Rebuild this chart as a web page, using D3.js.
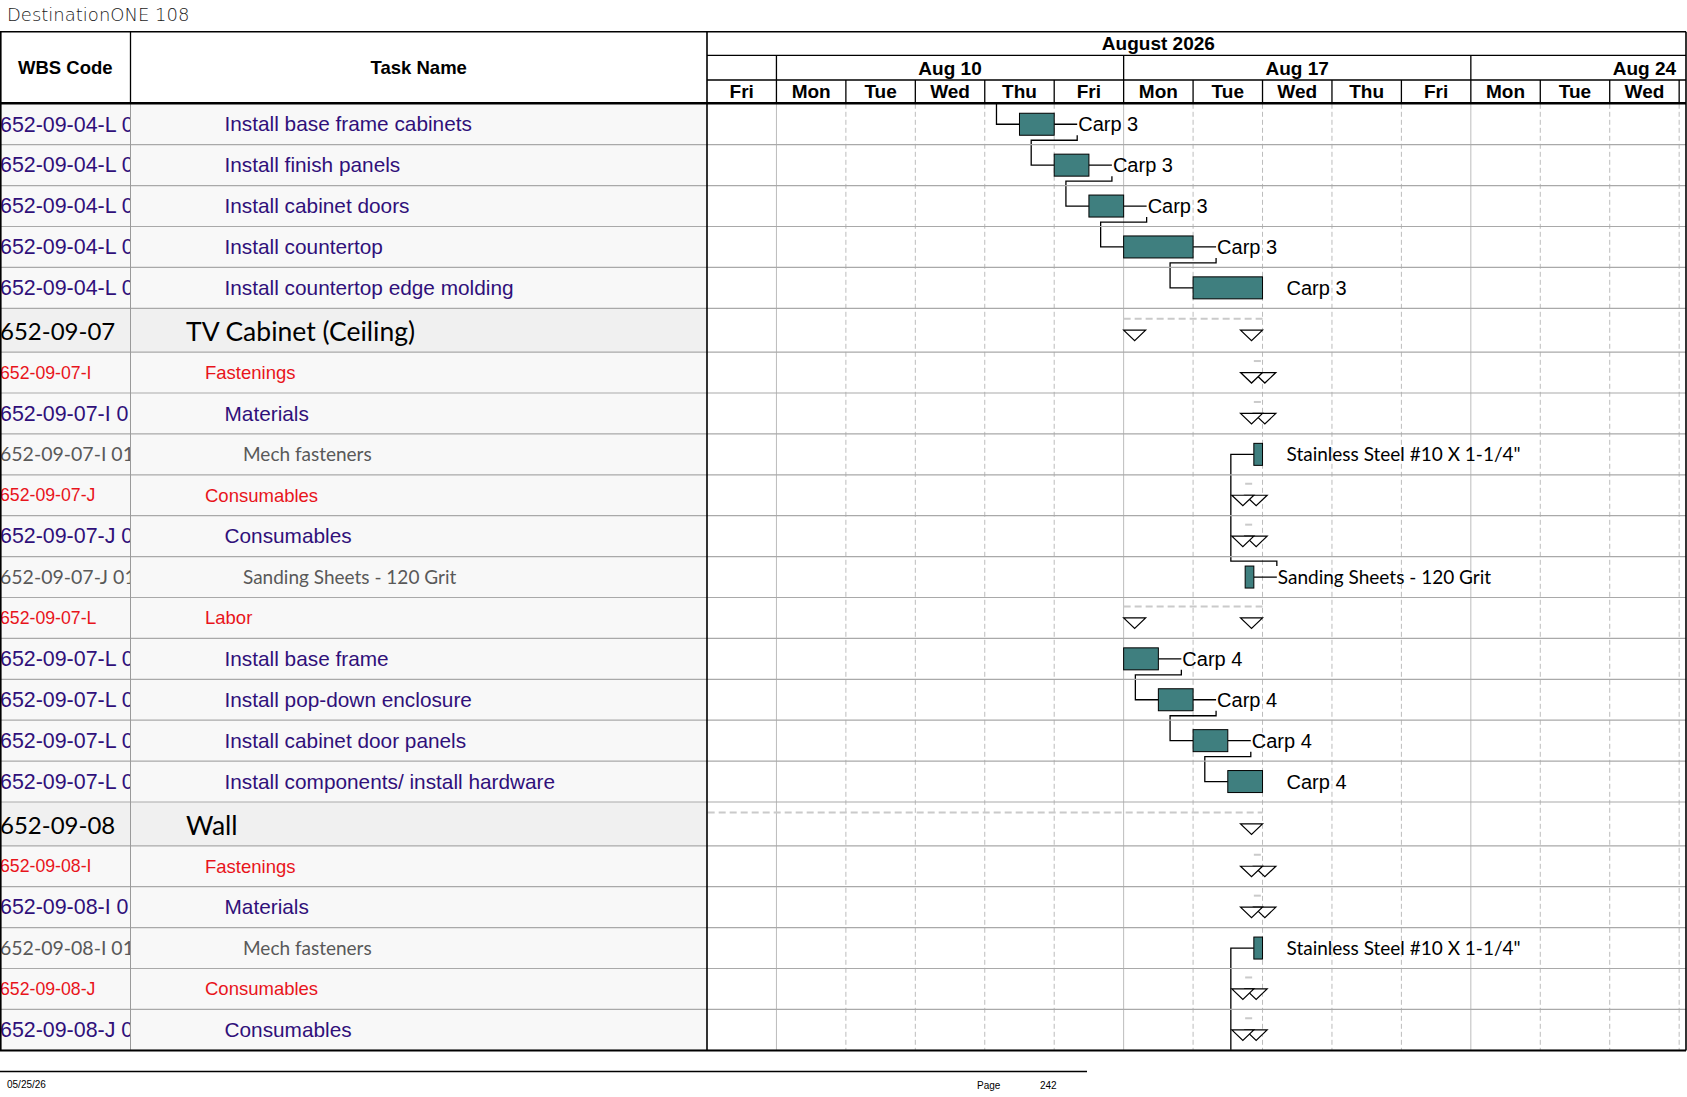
<!DOCTYPE html>
<html>
<head>
<meta charset="utf-8">
<script src="https://cdn.jsdelivr.net/npm/d3@7"></script>
<style>
  body { margin: 0; background: #fff; }
  svg { display: block; }
</style>
</head>
<body>
<svg id="gantt" width="1687" height="1097"></svg>
<script>
// task table rows (the last one continues below the page edge)
const wbsCodes = [
  "652-09-04-L 04", "652-09-04-L 05", "652-09-04-L 06", "652-09-04-L 07", "652-09-04-L 08",
  "652-09-07", "652-09-07-I", "652-09-07-I 01", "652-09-07-I 01-01",
  "652-09-07-J", "652-09-07-J 01", "652-09-07-J 01-01",
  "652-09-07-L", "652-09-07-L 01", "652-09-07-L 02", "652-09-07-L 03", "652-09-07-L 04",
  "652-09-08", "652-09-08-I", "652-09-08-I 01", "652-09-08-I 01-01",
  "652-09-08-J", "652-09-08-J 01", "652-09-08-J 01-01"
];
const taskNames = [
  "Install base frame cabinets", "Install finish panels", "Install cabinet doors",
  "Install countertop", "Install countertop edge molding",
  "TV Cabinet (Ceiling)", "Fastenings", "Materials", "Mech fasteners",
  "Consumables", "Consumables", "Sanding Sheets - 120 Grit",
  "Labor", "Install base frame", "Install pop-down enclosure",
  "Install cabinet door panels", "Install components/ install hardware",
  "Wall", "Fastenings", "Materials", "Mech fasteners",
  "Consumables", "Consumables", "Sanding Sheets - 120 Grit"
];
const outlineLevels = [3, 3, 3, 3, 3, 1, 2, 3, 4, 2, 3, 4, 2, 3, 3, 3, 3, 1, 2, 3, 4, 2, 3, 4];

// start / finish in working days counted from Fri Aug 7 2026
const taskStarts = [4.5, 5, 5.5, 6, 7, 6, 7.875, 7.875, 7.875, 7.75, 7.75, 7.75,
  6, 6, 6.5, 7, 7.5, -3, 7.875, 7.875, 7.875, 7.75, 7.75, 7.75];
const taskFinishes = [5, 5.5, 6, 7, 8, 8, 8, 8, 8, 7.875, 7.875, 7.875,
  8, 6.5, 7, 7.5, 8, 8, 8, 8, 8, 7.875, 7.875, 7.875];
const resourceLabels = [
  "Carp 3", "Carp 3", "Carp 3", "Carp 3", "Carp 3",
  null, null, null, "Stainless Steel #10 X 1-1/4\"",
  null, null, "Sanding Sheets - 120 Grit",
  null, "Carp 4", "Carp 4", "Carp 4", "Carp 4",
  null, null, null, "Stainless Steel #10 X 1-1/4\"",
  null, null, "Sanding Sheets - 120 Grit"
];
// finish-to-start links [predecessor, successor]; -1 = task on the previous page
const links = [[-1, 0], [0, 1], [1, 2], [2, 3], [3, 4], [11, 8], [13, 14], [14, 15], [15, 16], [23, 20]];

// timescale
const dayLabels = ["Fri", "Mon", "Tue", "Wed", "Thu", "Fri", "Mon", "Tue", "Wed", "Thu", "Fri", "Mon", "Tue", "Wed"];
const weekLabels = ["Aug 3", "Aug 10", "Aug 17", "Aug 24"];
const weekStarts = [-4, 1, 6, 11];
const monthLabels = ["August 2026"];
const monthStarts = [-4];
const monthEnds = [17];

const arial = "'Liberation Sans', Arial, sans-serif";
const calibri = "Lato, 'Open Sans', sans-serif";

const svg = d3.select("#gantt");
const W = 1687;
const headTop = 31.7, monthBottom = 55.3, weekBottom = 80, bodyTop = 103.8, bodyBottom = 1050.5;
const wbsRight = 130.5, tableRight = 707, chartRight = 1686;
const dayW = 69.44;

const x = d3.scaleLinear().domain([0, 14]).range([tableRight, tableRight + 14 * dayW]);

// row layout
const rows = wbsCodes.map((code, i) => ({
  i: i, code: code, name: taskNames[i], level: outlineLevels[i],
  start: taskStarts[i], finish: taskFinishes[i], label: resourceLabels[i]
}));
let yy = bodyTop;
rows.forEach((r, i) => {
  r.h = r.level === 1 ? 43.8 : 40.9;
  r.y0 = yy;
  r.yc = yy + r.h / 2;
  yy += r.h;
  r.summary = i + 1 < outlineLevels.length && outlineLevels[i + 1] > r.level;
});

// per outline level: code font, name font, colour, indent
const levelStyle = {
  1: { font: calibri, codeSize: 24, size: 26.5, color: "#000", indent: 186, dy: 0.4 },
  2: { font: arial, codeSize: 17.7, size: 18.5, color: "#e8141b", indent: 205, dy: 0.35 },
  3: { font: arial, codeSize: 21.4, size: 20.8, color: "#30107a", indent: 224.5, dy: 0.34 },
  4: { font: calibri, codeSize: 19.5, size: 19, color: "#595959", indent: 243, dy: 0.34 }
};

const defs = svg.append("defs");
defs.append("clipPath").attr("id", "clipBody").append("rect")
  .attr("x", 0).attr("y", bodyTop).attr("width", W).attr("height", bodyBottom - bodyTop);
defs.append("clipPath").attr("id", "clipChart").append("rect")
  .attr("x", tableRight).attr("y", bodyTop).attr("width", chartRight - tableRight).attr("height", bodyBottom - bodyTop);
defs.append("clipPath").attr("id", "clipWbs").append("rect")
  .attr("x", 0).attr("y", bodyTop).attr("width", wbsRight).attr("height", bodyBottom - bodyTop);
defs.append("clipPath").attr("id", "clipHead").append("rect")
  .attr("x", tableRight).attr("y", headTop).attr("width", chartRight - tableRight).attr("height", bodyTop - headTop);

// title
svg.append("text").attr("x", 7).attr("y", 21)
  .style("font-family", "'DejaVu Sans', sans-serif").style("font-weight", 200)
  .style("font-size", "18px").attr("fill", "#1a1a1a").text("DestinationONE 108");

// ---- body ----
const body = svg.append("g").attr("clip-path", "url(#clipBody)");

// table row backgrounds
body.selectAll("rect.rowbg").data(rows).enter().append("rect")
  .attr("class", "rowbg")
  .attr("x", 0).attr("y", d => d.y0).attr("width", tableRight).attr("height", d => d.h)
  .attr("fill", d => d.level === 1 ? "#f0f0f0" : "#f8f8f8");

// chart gridlines, solid at the start of each week
const chart = body.append("g").attr("clip-path", "url(#clipChart)");
const dayTicks = d3.range(1, dayLabels.length + 1);
chart.selectAll("line.grid").data(dayTicks).enter().append("line")
  .attr("class", "grid")
  .attr("x1", d => x(d)).attr("x2", d => x(d))
  .attr("y1", bodyTop).attr("y2", bodyBottom)
  .attr("stroke", "#bcbcbc").attr("stroke-width", 1)
  .attr("stroke-dasharray", d => weekStarts.includes(d) ? null : "5,3");

// row separators
body.selectAll("line.rowline").data(rows).enter().append("line")
  .attr("class", "rowline")
  .attr("x1", 0).attr("x2", chartRight)
  .attr("y1", d => d.y0 + d.h).attr("y2", d => d.y0 + d.h)
  .attr("stroke", "#a9a9a9").attr("stroke-width", 1.2);

// wbs column
const wbsG = body.append("g").attr("clip-path", "url(#clipWbs)");
wbsG.selectAll("text").data(rows).enter().append("text")
  .attr("x", 0).attr("y", d => d.yc + levelStyle[d.level].codeSize * levelStyle[d.level].dy)
  .style("font-family", d => levelStyle[d.level].font)
  .style("font-size", d => levelStyle[d.level].codeSize + "px")
  .attr("fill", d => levelStyle[d.level].color)
  .text(d => d.code);

// task names
body.selectAll("text.task").data(rows).enter().append("text")
  .attr("class", "task")
  .attr("x", d => levelStyle[d.level].indent)
  .attr("y", d => d.yc + levelStyle[d.level].size * levelStyle[d.level].dy)
  .style("font-family", d => levelStyle[d.level].font)
  .style("font-size", d => levelStyle[d.level].size + "px")
  .attr("fill", d => levelStyle[d.level].color)
  .text(d => d.name);

// summary rows: dashed span + triangles
const sums = rows.filter(d => d.summary);
chart.selectAll("line.span").data(sums).enter().append("line")
  .attr("class", "span")
  .attr("x1", d => x(d.start)).attr("x2", d => x(d.finish))
  .attr("y1", d => d.yc - 11.5).attr("y2", d => d.yc - 11.5)
  .attr("stroke", "#cacaca").attr("stroke-width", 2).attr("stroke-dasharray", "7,4");
const tri = (xa, yc) => `M${xa},${yc}h22l-11,10.5z`;
chart.selectAll("path.tri-s").data(sums).enter().append("path")
  .attr("d", d => tri(x(d.start), d.yc))
  .attr("fill", "#fff").attr("stroke", "#000").attr("stroke-width", 1.2);
chart.selectAll("path.tri-e").data(sums).enter().append("path")
  .attr("d", d => tri(x(d.finish) - 22, d.yc))
  .attr("fill", "#fff").attr("stroke", "#000").attr("stroke-width", 1.2);

// links
const leadIn = 23;
const linkPath = ([p, s]) => {
  const to = rows[s];
  const x2 = x(to.start);
  if (p < 0) {
    return `M${x2 - leadIn},${bodyTop}V${to.yc}H${x2}`;
  }
  const from = rows[p];
  const x1 = x(from.finish);
  const dir = to.yc > from.yc ? 1 : -1;
  return `M${x1},${from.yc}H${x1 + leadIn}` +
    `M${x1 + leadIn},${from.yc + dir * 11}V${from.yc + dir * 16}` +
    `H${x2 - leadIn}V${to.yc}H${x2}`;
};
chart.selectAll("path.link").data(links).enter().append("path")
  .attr("class", "link")
  .attr("d", linkPath)
  .attr("fill", "none").attr("stroke", "#000").attr("stroke-width", 1.3);

// task bars
const tasks = rows.filter(d => !d.summary);
chart.selectAll("rect.bar").data(tasks).enter().append("rect")
  .attr("class", "bar")
  .attr("x", d => x(d.start)).attr("y", d => d.yc - 11)
  .attr("width", d => x(d.finish) - x(d.start)).attr("height", 22)
  .attr("fill", "#3f7f7f").attr("stroke", "#000").attr("stroke-width", 1);

// resource labels
chart.selectAll("text.res").data(tasks.filter(d => d.label)).enter().append("text")
  .attr("class", "res")
  .attr("x", d => x(d.finish) + leadIn + 1)
  .attr("y", d => d.yc + 7)
  .style("font-family", d => d.level === 4 ? calibri : arial)
  .style("font-size", d => d.level === 4 ? "19px" : "20px")
  .attr("fill", "#000")
  .text(d => d.label);

// ---- header ----
const head = svg.append("g");
head.append("text").attr("x", wbsRight / 2).attr("y", 74).attr("text-anchor", "middle")
  .style("font-family", arial).style("font-weight", "bold").style("font-size", "18.5px")
  .text("WBS Code");
head.append("text").attr("x", (wbsRight + tableRight) / 2).attr("y", 74).attr("text-anchor", "middle")
  .style("font-family", arial).style("font-weight", "bold").style("font-size", "18.5px")
  .text("Task Name");

const scale = head.append("g").attr("clip-path", "url(#clipHead)");
const hdrText = sel => sel.attr("text-anchor", "middle")
  .style("font-family", arial).style("font-weight", "bold").style("font-size", "19px").attr("fill", "#000");

scale.selectAll("text.month").data(monthLabels).enter().append("text")
  .attr("x", (d, i) => (x(monthStarts[i]) + x(monthEnds[i])) / 2).attr("y", 50)
  .call(hdrText).text(d => d);
// week labels sit in the middle of the full week; the partial first week is too narrow to label
scale.selectAll("text.week").data(weekLabels.slice(1)).enter().append("text")
  .attr("x", (d, i) => x(weekStarts[i + 1] + 2.5)).attr("y", 74.5)
  .call(hdrText).text(d => d);
scale.selectAll("text.day").data(dayLabels).enter().append("text")
  .attr("x", (d, i) => x(i + 0.5)).attr("y", 97.5)
  .call(hdrText).text(d => d);

scale.selectAll("line.wk").data(weekStarts).enter().append("line")
  .attr("x1", d => x(d)).attr("x2", d => x(d)).attr("y1", monthBottom).attr("y2", weekBottom)
  .attr("stroke", "#000").attr("stroke-width", 1.3);
scale.selectAll("line.dy").data(dayTicks).enter().append("line")
  .attr("x1", d => x(d)).attr("x2", d => x(d)).attr("y1", weekBottom).attr("y2", bodyTop)
  .attr("stroke", "#000").attr("stroke-width", 1.3);

// frame lines
const frame = [
  [0, headTop, chartRight, headTop, 1.6],
  [tableRight, monthBottom, chartRight, monthBottom, 1.3],
  [tableRight, weekBottom, chartRight, weekBottom, 1.3],
  [0, bodyTop - 0.5, chartRight, bodyTop - 0.5, 2.6],
  [0, bodyBottom, chartRight, bodyBottom, 2],
  [0.8, headTop, 0.8, bodyBottom, 1.6],
  [wbsRight, headTop, wbsRight, bodyTop, 1.3],
  [tableRight, headTop, tableRight, bodyBottom, 1.6],
  [chartRight, headTop, chartRight, bodyBottom, 1.6]
];
svg.append("line").attr("x1", wbsRight).attr("x2", wbsRight).attr("y1", bodyTop).attr("y2", bodyBottom)
  .attr("stroke", "#9a9a9a").attr("stroke-width", 1);
svg.selectAll("line.frame").data(frame).enter().append("line")
  .attr("x1", d => d[0]).attr("y1", d => d[1]).attr("x2", d => d[2]).attr("y2", d => d[3])
  .attr("stroke", "#000").attr("stroke-width", d => d[4]);

// footer
svg.append("line").attr("x1", 0).attr("x2", 1087).attr("y1", 1071.5).attr("y2", 1071.5)
  .attr("stroke", "#000").attr("stroke-width", 1.5);
const foot = svg.append("g").style("font-family", arial).style("font-size", "10px").attr("fill", "#000");
foot.append("text").attr("x", 7).attr("y", 1088).text("05/25/26");
foot.append("text").attr("x", 977).attr("y", 1089).text("Page");
foot.append("text").attr("x", 1040).attr("y", 1089).text("242");
</script>
</body>
</html>
